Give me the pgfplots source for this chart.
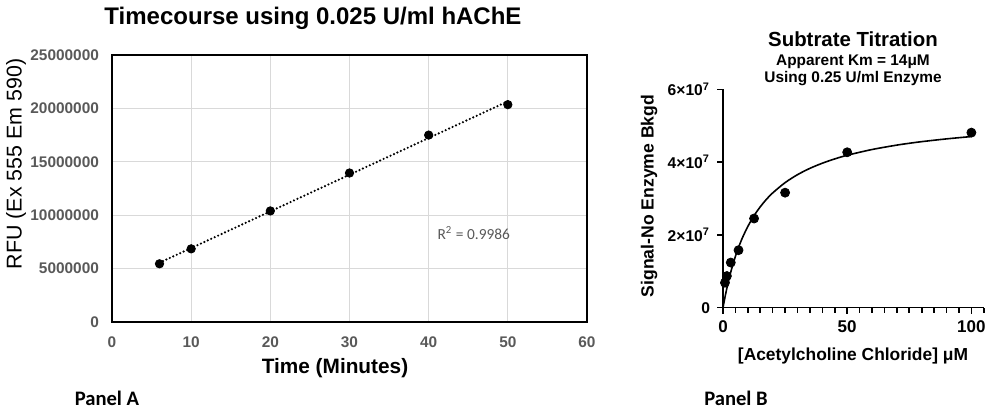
\documentclass[border=0pt]{standalone}
\usepackage{fontspec}
\setmainfont{Liberation Sans}
\newfontfamily\calibri{Carlito}
\usepackage{pgfplots}
\pgfplotsset{compat=1.18}
\definecolor{tickgray}{HTML}{595959}
\definecolor{gridgray}{HTML}{D9D9D9}

\begin{document}
\begin{tikzpicture}
\path[use as bounding box] (0pt,0pt) rectangle (500pt,208.5pt);

% Panel A: timecourse
\begin{axis}[
    at={(56pt,47.5pt)}, anchor=south west, scale only axis,
    width=237.5pt, height=133.5pt,
    xmin=0, xmax=60, ymin=0, ymax=25000000,
    scaled y ticks=false,
    xtick={0,10,20,30,40,50,60},
    xticklabels={0,10,20,30,40,50,60},
    ytick={0,5000000,10000000,15000000,20000000,25000000},
    yticklabels={0,5000000,10000000,15000000,20000000,25000000},
    grid=major,
    major grid style={draw=gridgray, line width=0.5pt},
    axis line style={line width=0.9pt},
    major tick length=0pt,
    tick label style={font=\fontsize{7.7}{9}\selectfont\bfseries, text=tickgray},
    xticklabel style={yshift=-4pt},
    yticklabel style={xshift=-3pt},
    clip=false,
]
    % linear trendline
    \addplot[black, line width=1.2pt, dash pattern=on 0pt off 1.9pt, line cap=round]
        coordinates {(6,5548000) (50,20660000)};
    \addplot[only marks, mark=*, mark size=2.1pt, black]
        coordinates {(6,5450000) (10,6850000) (20,10400000) (30,13950000) (40,17500000) (50,20350000)};
    \node[font=\calibri\fontsize{7.7}{9}\selectfont, text=tickgray] at (axis cs:45.7,8330000) {R\textsuperscript{2} = 0.9986};
\end{axis}

\node[font=\bfseries\fontsize{12}{14}\selectfont] at (156.5pt,199.5pt) {Timecourse using 0.025 U/ml hAChE};
\node[rotate=90, font=\fontsize{10.7}{12}\selectfont] at (8pt,126.5pt) {RFU (Ex 555 Em 590)};
\node[font=\bfseries\fontsize{10.4}{12}\selectfont] at (167.5pt,24.5pt) {Time (Minutes)};
\node[font=\calibri\bfseries\fontsize{10.3}{12}\selectfont] at (53.5pt,9.5pt) {Panel A};

% Panel B: substrate titration
\begin{axis}[
    at={(361.5pt,54.65pt)}, anchor=south west, scale only axis,
    width=130.4pt, height=109.2pt,
    xmin=0, xmax=105, ymin=0, ymax=60000000,
    scaled y ticks=false,
    axis x line=bottom, axis y line=left,
    axis line style={-, line width=0.8pt},
    xtick={0,50,100}, xticklabels={0,50,100},
    minor xtick={5,10,...,105},
    ytick={0,20000000,40000000,60000000},
    yticklabels={0,2×10\textsuperscript{7},4×10\textsuperscript{7},6×10\textsuperscript{7}},
    tick align=outside,
    major tick length=3pt, minor tick length=2.5pt,
    every tick/.style={black, line width=0.8pt},
    xticklabel style={font=\bfseries\fontsize{8.5}{10}\selectfont},
    yticklabel style={font=\bfseries\fontsize{7.8}{9}\selectfont},
    clip=false,
]
    % Michaelis-Menten fit as drawn
    \addplot[black, line width=0.8pt, smooth]
        coordinates {(0,0) (0.25,940000) (0.5,1848000) (1,3573000) (1.5,5190000) (2,6700000) (3,9460000) (4,11910000)
        (5,14110000) (6,16080000) (7,17870000) (8,19490000) (10,22330000) (12.5,25280000) (15,27720000)
        (17.5,29780000) (20,31530000) (25,34360000) (30,36550000) (35,38290000) (40,39700000) (45,40880000)
        (50,41880000) (60,43460000) (70,44670000) (75,45170000) (80,45620000) (90,46380000) (100,47020000)};
    \addplot[only marks, mark=*, mark size=2.25pt, black]
        coordinates {(0.78,6870000) (1.56,8700000) (3.13,12400000) (6.25,15800000) (12.5,24500000)
        (25,31600000) (50,42700000) (100,48100000)};
\end{axis}

\node[font=\bfseries\fontsize{10.2}{12}\selectfont] at (426.5pt,189pt) {Subtrate Titration};
\node[font=\bfseries\fontsize{7.7}{9}\selectfont] at (426.5pt,177.5pt) {Apparent Km = 14μM};
\node[font=\bfseries\fontsize{7.7}{9}\selectfont] at (426.5pt,169pt) {Using 0.25 U/ml Enzyme};
\node[rotate=90, font=\bfseries\fontsize{8.8}{10}\selectfont] at (324.5pt,110.5pt) {Signal-No Enzyme Bkgd};
\node[font=\bfseries\fontsize{8.7}{10}\selectfont] at (426.5pt,30.5pt) {[Acetylcholine Chloride] μM};
\node[font=\calibri\bfseries\fontsize{10.3}{12}\selectfont] at (368pt,9.5pt) {Panel B};
\end{tikzpicture}
\end{document}
